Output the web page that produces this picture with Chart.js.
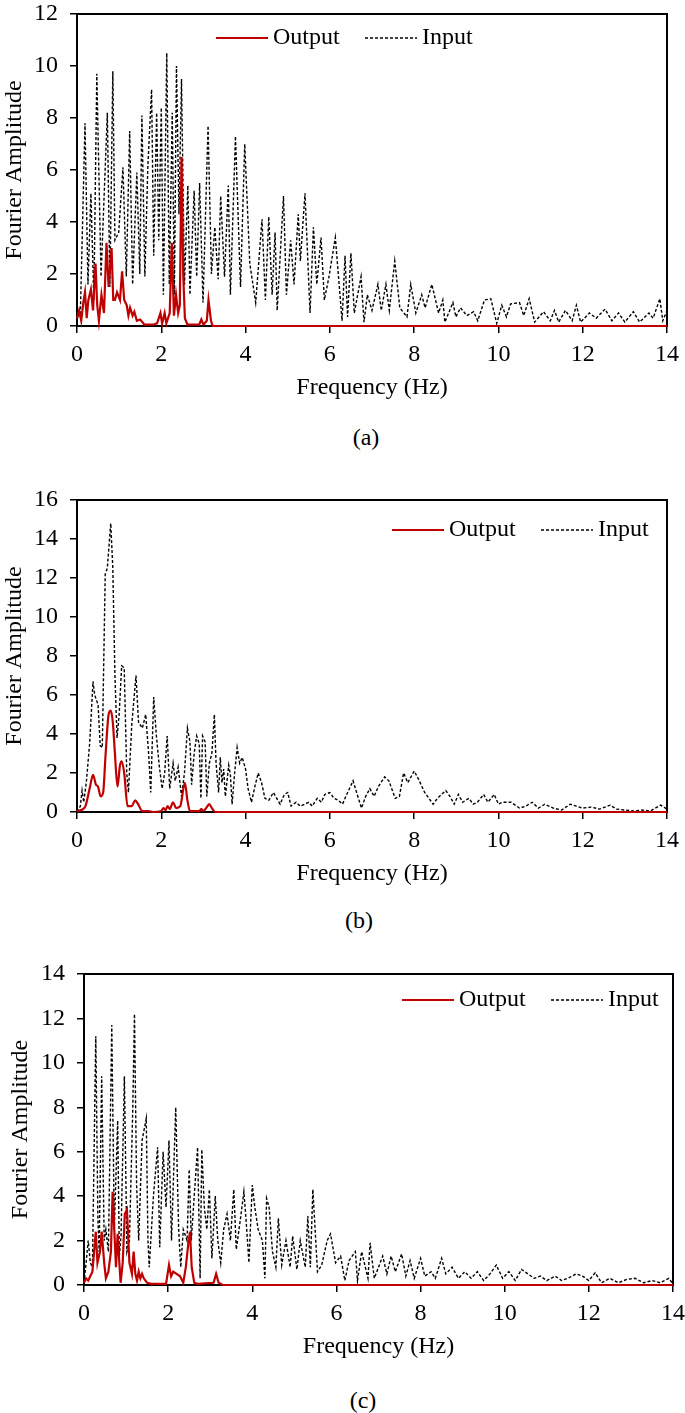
<!DOCTYPE html>
<html>
<head>
<meta charset="utf-8">
<script src="https://cdn.jsdelivr.net/npm/chart.js@4/dist/chart.umd.min.js"></script>
<style>
  body { margin: 0; background: #fff; width: 685px; height: 1413px; position: relative; font-family: "Liberation Serif", "Times New Roman", serif; }
  canvas { position: absolute; left: 0; }
  .cap { position: absolute; font-size: 24px; color: #000; transform: translate(-50%, -50%); white-space: nowrap; }
</style>
</head>
<body>
<canvas id="chartA" width="685" height="402" style="top:0px"></canvas>
<canvas id="chartB" width="685" height="408" style="top:480px"></canvas>
<canvas id="chartC" width="685" height="406" style="top:955px"></canvas>
<div class="cap" style="left:366px; top:437px">(a)</div>
<div class="cap" style="left:359px; top:920px">(b)</div>
<div class="cap" style="left:363px; top:1400px">(c)</div>
<script>
// (a)
const freqInA = [0, 0.08, 0.19, 0.26, 0.33, 0.40, 0.47, 0.57, 0.72, 0.78, 0.85, 0.90, 0.99, 1.09, 1.17, 1.25, 1.32, 1.42, 1.49, 1.54, 1.61, 1.68, 1.77, 1.82, 1.89, 1.94, 2.00, 2.05, 2.13, 2.19, 2.26, 2.31, 2.36, 2.42, 2.48, 2.55, 2.63, 2.68, 2.78, 2.84, 2.91, 2.99, 3.11, 3.19, 3.27, 3.35, 3.41, 3.50, 3.59, 3.64, 3.76, 3.88, 3.98, 4.10, 4.24, 4.39, 4.47, 4.55, 4.63, 4.70, 4.75, 4.90, 4.97, 5.07, 5.15, 5.25, 5.30, 5.41, 5.53, 5.61, 5.69, 5.79, 5.87, 5.98, 6.13, 6.29, 6.36, 6.42, 6.50, 6.58, 6.74, 6.81, 6.89, 7.00, 7.14, 7.22, 7.33, 7.41, 7.54, 7.66, 7.83, 7.92, 8.04, 8.18, 8.26, 8.42, 8.58, 8.68, 8.73, 8.92, 8.99, 9.10, 9.25, 9.41, 9.51, 9.67, 9.82, 9.96, 10.08, 10.19, 10.29, 10.50, 10.60, 10.73, 10.86, 11.07, 11.23, 11.33, 11.43, 11.59, 11.75, 11.85, 11.95, 12.16, 12.32, 12.53, 12.69, 12.85, 13.00, 13.20, 13.35, 13.57, 13.67, 13.83, 13.90, 14.00];
const ampInA = [0.3, 0.5, 7.8, 1.6, 5.1, 1.0, 9.7, 1.9, 8.2, 1.5, 9.8, 3.3, 3.6, 6.1, 1.9, 7.5, 1.6, 5.9, 2.0, 8.1, 1.9, 6.1, 9.1, 2.7, 8.2, 3.3, 8.4, 1.2, 10.5, 1.6, 8.2, 1.2, 10.0, 4.3, 9.5, 1.6, 5.4, 1.2, 5.2, 1.9, 5.5, 0.9, 7.7, 2.0, 3.8, 1.8, 5.0, 1.9, 5.4, 1.2, 7.3, 1.5, 7.0, 2.4, 0.9, 4.1, 1.0, 4.2, 1.2, 3.6, 0.6, 5.0, 1.2, 3.3, 1.6, 4.3, 2.5, 5.1, 0.5, 3.8, 1.6, 3.4, 1.0, 1.9, 3.4, 0.2, 2.7, 0.35, 2.8, 0.5, 1.9, 0.15, 1.2, 0.6, 1.6, 0.6, 1.6, 0.6, 2.5, 0.7, 0.35, 1.6, 0.5, 1.2, 0.7, 1.6, 0.5, 1.0, 0.15, 0.9, 0.35, 0.7, 0.4, 0.55, 0.2, 1.0, 1.05, 0.1, 0.8, 0.35, 0.85, 0.9, 0.4, 1.05, 0.15, 0.55, 0.2, 0.6, 0.15, 0.6, 0.2, 0.8, 0.15, 0.5, 0.3, 0.65, 0.2, 0.5, 0.15, 0.55, 0.15, 0.5, 0.3, 1.05, 0.2, 0.6];
const freqOutA = [0, 0.05, 0.10, 0.15, 0.19, 0.23, 0.27, 0.33, 0.38, 0.44, 0.48, 0.52, 0.58, 0.64, 0.70, 0.75, 0.82, 0.86, 0.90, 0.95, 1.02, 1.07, 1.12, 1.18, 1.22, 1.26, 1.32, 1.36, 1.42, 1.50, 1.60, 1.80, 1.90, 1.98, 2.02, 2.08, 2.12, 2.20, 2.25, 2.30, 2.35, 2.40, 2.44, 2.48, 2.52, 2.56, 2.62, 2.90, 2.95, 3.00, 3.08, 3.12, 3.18, 3.22, 14];
const ampOutA = [0.3, 0.6, 0.2, 0.9, 1.3, 0.3, 1.0, 1.4, 0.6, 2.4, 0.8, 0.2, 1.2, 0.5, 3.2, 1.5, 3.0, 1.0, 1.0, 1.3, 1.0, 2.1, 1.0, 0.8, 0.4, 0.7, 0.4, 0.55, 0.2, 0.25, 0.05, 0.05, 0.1, 0.5, 0.1, 0.5, 0.1, 0.5, 3.2, 0.4, 1.2, 0.5, 0.8, 6.5, 2.0, 0.3, 0.05, 0.05, 0.25, 0.05, 0.2, 1.0, 0.2, 0, 0];

// (b)
const freqInB = [0, 0.08, 0.12, 0.16, 0.22, 0.30, 0.38, 0.42, 0.50, 0.55, 0.60, 0.67, 0.72, 0.80, 0.85, 0.90, 0.95, 1.00, 1.06, 1.12, 1.18, 1.22, 1.30, 1.40, 1.46, 1.55, 1.63, 1.70, 1.75, 1.82, 1.88, 1.95, 2.02, 2.08, 2.14, 2.20, 2.28, 2.33, 2.40, 2.48, 2.55, 2.62, 2.68, 2.72, 2.78, 2.84, 2.90, 2.94, 2.98, 3.04, 3.08, 3.14, 3.20, 3.26, 3.30, 3.36, 3.40, 3.44, 3.48, 3.52, 3.60, 3.64, 3.68, 3.74, 3.80, 3.86, 3.92, 4.00, 4.06, 4.14, 4.22, 4.30, 4.38, 4.46, 4.55, 4.66, 4.74, 4.82, 4.92, 5.00, 5.08, 5.20, 5.30, 5.40, 5.50, 5.58, 5.70, 5.80, 5.88, 6.00, 6.10, 6.20, 6.30, 6.40, 6.55, 6.65, 6.75, 6.85, 6.95, 7.05, 7.15, 7.30, 7.40, 7.55, 7.65, 7.75, 7.85, 8.00, 8.10, 8.25, 8.35, 8.45, 8.55, 8.75, 8.85, 8.95, 9.05, 9.15, 9.30, 9.40, 9.50, 9.65, 9.75, 9.90, 10.00, 10.10, 10.30, 10.50, 10.65, 10.80, 10.95, 11.10, 11.30, 11.50, 11.70, 11.85, 12.00, 12.20, 12.40, 12.65, 12.80, 13.00, 13.20, 13.40, 13.60, 13.85, 14.00];
const ampInB = [0, 0.3, 1.1, 0.5, 1.5, 3.5, 6.7, 6.0, 5.5, 3.4, 3.3, 12.2, 12.5, 14.8, 12.5, 7.0, 3.8, 5.0, 7.5, 7.4, 2.0, 1.0, 4.5, 7.0, 4.6, 4.3, 5.0, 3.0, 1.0, 5.9, 4.0, 2.4, 1.2, 2.0, 3.9, 1.2, 2.5, 1.6, 2.3, 0.8, 2.0, 4.3, 3.6, 1.4, 3.0, 3.9, 3.5, 0.7, 3.9, 3.6, 0.8, 2.5, 3.0, 5.0, 2.5, 1.0, 2.8, 1.5, 2.2, 0.8, 2.4, 1.9, 0.4, 2.0, 3.3, 2.5, 2.8, 2.2, 1.2, 0.5, 1.3, 2.0, 1.5, 0.7, 0.6, 1.0, 0.7, 0.4, 0.9, 1.0, 0.3, 0.5, 0.3, 0.4, 0.5, 0.3, 0.7, 0.5, 0.9, 1.0, 0.7, 0.6, 0.4, 0.9, 1.6, 0.9, 0.2, 0.8, 1.2, 0.8, 1.3, 1.8, 1.6, 0.7, 0.8, 2.0, 1.5, 2.1, 1.7, 1.0, 0.7, 0.4, 0.7, 1.1, 0.8, 0.4, 0.9, 0.5, 0.7, 0.4, 0.5, 0.9, 0.5, 0.9, 0.4, 0.5, 0.5, 0.2, 0.3, 0.5, 0.2, 0.4, 0.2, 0.1, 0.4, 0.3, 0.2, 0.25, 0.15, 0.35, 0.15, 0.1, 0.05, 0.1, 0.05, 0.35, 0.15];
const freqOutB = [0, 0.10, 0.20, 0.30, 0.38, 0.45, 0.50, 0.56, 0.62, 0.68, 0.75, 0.80, 0.85, 0.90, 0.96, 1.02, 1.06, 1.12, 1.20, 1.30, 1.38, 1.45, 1.55, 1.70, 1.80, 2.00, 2.05, 2.10, 2.15, 2.20, 2.28, 2.35, 2.45, 2.56, 2.62, 2.68, 2.90, 2.95, 3.00, 3.08, 3.14, 3.20, 3.28, 14];
const ampOutB = [0.05, 0.1, 0.3, 1.2, 1.9, 1.4, 1.3, 0.8, 1.0, 3.0, 5.0, 5.2, 4.6, 3.0, 1.3, 2.4, 2.6, 2.0, 0.3, 0.3, 0.6, 0.4, 0.05, 0.05, 0, 0.05, 0.2, 0.1, 0.3, 0.15, 0.5, 0.2, 0.3, 1.5, 0.6, 0.05, 0.05, 0.15, 0.05, 0.25, 0.4, 0.2, 0, 0];

// (c)
const freqInC = [0, 0.05, 0.10, 0.15, 0.20, 0.28, 0.33, 0.36, 0.42, 0.48, 0.52, 0.58, 0.66, 0.72, 0.80, 0.84, 0.88, 0.96, 1.02, 1.08, 1.16, 1.20, 1.25, 1.30, 1.38, 1.48, 1.52, 1.55, 1.65, 1.75, 1.80, 1.88, 1.95, 2.02, 2.08, 2.18, 2.25, 2.30, 2.36, 2.45, 2.50, 2.55, 2.62, 2.70, 2.76, 2.80, 2.86, 2.92, 2.98, 3.04, 3.12, 3.18, 3.25, 3.32, 3.40, 3.48, 3.56, 3.62, 3.72, 3.80, 3.85, 3.92, 4.00, 4.06, 4.14, 4.24, 4.30, 4.34, 4.40, 4.48, 4.56, 4.62, 4.70, 4.80, 4.90, 4.96, 5.06, 5.14, 5.26, 5.32, 5.38, 5.44, 5.55, 5.65, 5.78, 5.86, 5.98, 6.10, 6.20, 6.30, 6.45, 6.50, 6.60, 6.75, 6.80, 6.90, 7.00, 7.10, 7.20, 7.30, 7.40, 7.55, 7.65, 7.75, 7.85, 8.00, 8.10, 8.25, 8.35, 8.50, 8.60, 8.75, 8.90, 9.05, 9.20, 9.35, 9.50, 9.65, 9.80, 9.95, 10.10, 10.25, 10.40, 10.55, 10.70, 10.85, 11.00, 11.20, 11.35, 11.50, 11.70, 11.85, 12.00, 12.15, 12.30, 12.50, 12.70, 12.90, 13.10, 13.30, 13.50, 13.70, 13.90, 14.00];
const ampInC = [0.1, 1.0, 2.0, 1.0, 0.8, 11.2, 3.0, 1.5, 9.4, 2.0, 2.5, 1.5, 11.7, 2.5, 7.4, 1.3, 2.2, 9.4, 1.5, 2.0, 8.0, 12.2, 4.5, 2.0, 6.5, 7.5, 2.0, 0.8, 4.0, 6.2, 1.7, 6.0, 3.5, 6.5, 2.0, 8.0, 2.5, 0.8, 2.5, 2.0, 5.2, 2.0, 4.0, 6.2, 0.3, 6.1, 3.5, 2.5, 4.3, 1.2, 4.0, 2.0, 1.0, 2.5, 3.2, 2.0, 4.3, 1.6, 3.0, 4.2, 3.0, 1.0, 4.5, 3.5, 2.5, 2.0, 0.3, 3.9, 3.5, 1.5, 0.8, 3.0, 0.9, 2.0, 0.8, 2.2, 0.7, 2.0, 0.8, 3.1, 0.8, 4.3, 0.6, 0.9, 2.0, 2.3, 1.0, 1.3, 0.2, 1.1, 1.5, 0.2, 1.5, 0.3, 1.9, 0.3, 0.8, 1.3, 0.5, 1.3, 0.6, 1.4, 0.4, 1.1, 0.3, 1.2, 0.4, 0.6, 0.3, 1.2, 0.5, 0.8, 0.3, 0.6, 0.3, 0.6, 0.2, 0.5, 0.9, 0.3, 0.6, 0.2, 0.7, 0.5, 0.3, 0.4, 0.2, 0.4, 0.2, 0.3, 0.5, 0.4, 0.2, 0.55, 0.1, 0.3, 0.1, 0.25, 0.3, 0.1, 0.2, 0.1, 0.3, 0.05];
const freqOutC = [0, 0.05, 0.10, 0.20, 0.28, 0.32, 0.38, 0.42, 0.48, 0.52, 0.58, 0.64, 0.68, 0.72, 0.76, 0.80, 0.84, 0.87, 0.92, 0.97, 1.02, 1.08, 1.14, 1.18, 1.22, 1.26, 1.30, 1.34, 1.38, 1.42, 1.50, 1.60, 1.95, 2.02, 2.07, 2.12, 2.20, 2.28, 2.36, 2.42, 2.47, 2.52, 2.56, 2.62, 2.70, 3.08, 3.14, 3.20, 3.30, 14];
const ampOutC = [0.1, 0.3, 0.2, 0.6, 2.4, 1.0, 1.5, 2.4, 1.0, 0.3, 0.6, 1.5, 4.2, 2.5, 0.8, 2.3, 1.0, 0.1, 1.0, 3.2, 3.4, 1.0, 0.5, 1.5, 0.5, 0.2, 0.6, 0.3, 0.5, 0.3, 0.1, 0.05, 0.05, 0.9, 0.4, 0.6, 0.5, 0.4, 0.1, 0.8, 1.7, 2.4, 0.8, 0.1, 0.05, 0.1, 0.5, 0.1, 0, 0];

const xTicks = [0, 2, 4, 6, 8, 10, 12, 14];
const RED = '#C00000';
const FONT = { family: '"Liberation Serif", "Times New Roman", serif', size: 24 };

Chart.defaults.font.family = FONT.family;
Chart.defaults.color = '#000';

function toPoints(xs, ys) {
    return xs.map((x, i) => ({ x: x, y: ys[i] }));
}

// box round the plot area
const frame = {
    id: 'frame',
    beforeDatasetsDraw(chart) {
        const a = chart.chartArea;
        const ctx = chart.ctx;
        ctx.save();
        ctx.strokeStyle = '#000';
        ctx.lineWidth = 2;
        ctx.strokeRect(a.left, a.top, a.right - a.left, a.bottom - a.top);
        ctx.restore();
    }
};

function makeLegend(xs, y) {
    return {
        id: 'inlineLegend',
        afterDatasetsDraw(chart) {
            const ctx = chart.ctx;
            ctx.save();
            chart.data.datasets.forEach((ds, i) => {
                ctx.strokeStyle = ds.borderColor;
                ctx.lineWidth = ds.borderWidth;
                ctx.setLineDash(ds.borderDash || []);
                ctx.beginPath();
                ctx.moveTo(xs[i], y);
                ctx.lineTo(xs[i] + 52, y);
                ctx.stroke();
                ctx.setLineDash([]);
                ctx.fillStyle = '#000';
                ctx.font = FONT.size + 'px ' + FONT.family;
                ctx.textBaseline = 'middle';
                ctx.fillText(ds.label, xs[i] + 57, y);
            });
            ctx.restore();
        }
    };
}

function makeChart(id, fIn, aIn, fOut, aOut, c) {
    const canvas = document.getElementById(id);
    const config = {
        type: 'line',
        data: {
            datasets: [{
                label: 'Output',
                data: toPoints(fOut, aOut),
                borderColor: RED,
                borderWidth: 2.2,
                pointRadius: 0,
                tension: 0,
                cubicInterpolationMode: c.smooth ? 'monotone' : 'default',
                clip: false,
            }, {
                label: 'Input',
                data: toPoints(fIn, aIn),
                borderColor: '#000',
                borderWidth: 1.4,
                borderDash: [3, 2],
                pointRadius: 0,
                tension: 0,
            }]
        },
        options: {
            responsive: false,
            animation: false,
            events: [],
            layout: { padding: { top: c.padTop, right: c.padRight, left: 0, bottom: 0 } },
            plugins: { legend: { display: false }, tooltip: { enabled: false } },
            scales: {
                x: {
                    type: 'linear', min: 0, max: 14,
                    afterBuildTicks: s => { s.ticks = xTicks.map(v => ({ value: v })); },
                    // fixed axis box, no extra room for the end labels
                    afterFit: s => { s.height = 76; s.paddingLeft = 0; s.paddingRight = 0; },
                    ticks: { font: FONT, padding: 7, color: '#000' },
                    grid: { drawOnChartArea: false, tickLength: 7, color: '#000', lineWidth: 1.5 },
                    border: { color: '#000', width: 2 },
                    title: { display: true, text: 'Frequency (Hz)', font: FONT, color: '#000', padding: { top: 0, bottom: 0 } },
                },
                y: {
                    min: 0, max: c.yMax,
                    afterFit: s => { s.width = c.left; s.paddingTop = 0; s.paddingBottom = 0; },
                    ticks: { stepSize: 2, font: FONT, padding: 12, color: '#000' },
                    grid: { drawOnChartArea: false, tickLength: 7, color: '#000', lineWidth: 1.5 },
                    border: { color: '#000', width: 2 },
                    title: { display: true, text: 'Fourier Amplitude', font: FONT, color: '#000', padding: { top: c.titlePad, bottom: 0 } },
                }
            }
        },
        plugins: [frame, makeLegend(c.legendX, c.legendY)]
    };
    new Chart(canvas, config);
}

makeChart('chartA', freqInA, ampInA, freqOutA, ampOutA,
    { yMax: 12, padTop: 14, padRight: 18, left: 77, titlePad: 0, legendX: [216, 365], legendY: 38, smooth: false });
makeChart('chartB', freqInB, ampInB, freqOutB, ampOutB,
    { yMax: 16, padTop: 20, padRight: 18, left: 77, titlePad: 0, legendX: [392, 541], legendY: 50, smooth: true });
makeChart('chartC', freqInC, ampInC, freqOutC, ampOutC,
    { yMax: 14, padTop: 19, padRight: 12, left: 84, titlePad: 6, legendX: [402, 551], legendY: 45, smooth: false });
</script>
</body>
</html>
